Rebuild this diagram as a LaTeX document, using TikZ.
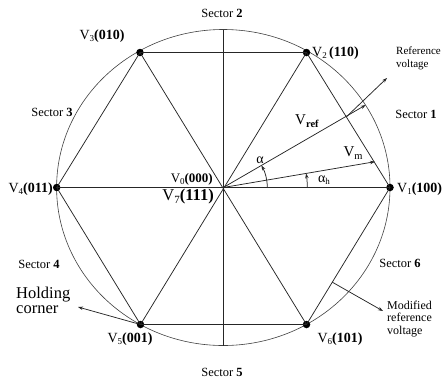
\documentclass[tikz,border=0pt]{standalone}
\usepackage{fontspec}
\setmainfont{Liberation Serif}
\usetikzlibrary{arrows.meta}
\newcommand\lsub[1]{\raisebox{-0.35ex}{\fontsize{9}{9}\selectfont #1}}
\begin{document}
\begin{tikzpicture}[x=1pt,y=-1pt,
  ln/.style={line width=0.75pt,black!85},
  dot/.style={circle,fill=black,inner sep=0pt,minimum size=7.5pt},
  tip/.style={-{Stealth[length=5pt,width=3.5pt]}},
  lbl/.style={inner sep=0pt,font=\fontsize{14}{16}\selectfont},
  big/.style={inner sep=0pt,font=\fontsize{16.5}{15}\selectfont,align=left},
  sec/.style={inner sep=0pt,font=\fontsize{12.5}{14}\selectfont},
  note/.style={inner sep=0pt,font=\fontsize{12.5}{12.5}\selectfont,align=left},
  ]
\useasboundingbox (0,0) rectangle (443,381);
\coordinate (O) at (223.3,187.5);
\draw[line width=0.6pt, black!75] (O) ellipse [x radius=166.7pt, y radius=158pt];
\node[dot] (v1) at (390,187.5) {};
\node[dot] (v2) at (306.5,52.5) {};
\node[dot] (v3) at (140,52.5) {};
\node[dot] (v4) at (56.7,187.5) {};
\node[dot] (v5) at (140.5,324.5) {};
\node[dot] (v6) at (306.5,324.5) {};
\coordinate (top) at (223.3,29.5);
\coordinate (bot) at (223.3,345.5);
\draw[ln] (top) -- (bot);
\draw[ln] (v1.center) -- (v2.center) -- (v3.center) -- (v4.center) -- (v5.center) -- (v6.center) -- cycle;
\draw[ln] (v1.center) -- (v4.center) (v2.center) -- (v5.center) (v3.center) -- (v6.center);
% reference vectors
\coordinate (vr) at (365.7,105);
\coordinate (vm) at (375,161.7);
\draw[ln,tip] (O) -- (vr);
\draw[ln,tip] (O) -- (vm);
\draw[ln,tip] ([shift={(44pt,0pt)}]O) arc[start angle=0,end angle=30.1,radius=44pt];
\draw[ln,tip] ([shift={(84pt,0pt)}]O) arc[start angle=0,end angle=9.65,radius=84pt];
% pointers
\coordinate (rp) at (346.5,116.7);
\coordinate (rpe) at (387,78);
\draw[ln,tip] (rp) -- (rpe);
\coordinate (mp) at (332,282);
\coordinate (mpe) at (383,311);
\draw[ln,tip] (mp) -- (mpe);
\coordinate (hce) at (78,307);
\draw[ln,tip] (v5.center) -- (hce);
% sector labels
\node[sec] (s1) at (416,114) {Sector \textbf{1}};
\node[sec] (s2) at (222,13) {Sector \textbf{2}};
\node[sec] (s3) at (52,112) {Sector \textbf{3}};
\node[sec] (s4) at (39,264) {Sector \textbf{4}};
\node[sec] (s5) at (222,372) {Sector \textbf{5}};
\node[sec] (s6) at (400,263) {Sector \textbf{6}};
% vertex labels
\node[lbl] (l3) at (102,36) {V\lsub{3}\textbf{(010)}};
\node[lbl,anchor=west] (l2) at (312,53) {V\lsub{2}\,\textbf{(110)}};
\node[lbl,anchor=east] (l4) at (53,189) {V\lsub{4}\textbf{(011)}};
\node[lbl,anchor=west] (l1) at (397,189) {V\lsub{1}\textbf{(100)}};
\node[lbl] (l5) at (130,339) {V\lsub{5}\textbf{(001)}};
\node[lbl] (l6) at (340,339) {V\lsub{6}\textbf{(101)}};
\node[lbl,anchor=east,font=\fontsize{13}{15}\selectfont] (l0) at (213,179) {V\lsub{0}\textbf{(000)}};
\node[big,anchor=east] (l7) at (214,197) {V\raisebox{-0.35ex}{\fontsize{11}{11}\selectfont 7}\textbf{(111)}};
% annotations
\node[note,anchor=west,font=\fontsize{11}{12.5}\selectfont] (rv) at (396,58.5) {Reference\\voltage};
\node[note,anchor=west,font=\fontsize{12}{12.5}\selectfont] (mr) at (387,319) {Modified\\reference\\voltage};
\node[big,anchor=west] (hc) at (16,300) {Holding\\corner};
\node[lbl,font=\fontsize{15}{15}\selectfont] (lvr) at (307,121) {V\raisebox{-0.35ex}{\fontsize{10.5}{10.5}\selectfont\textbf{ref}}};
\node[lbl,font=\fontsize{15}{15}\selectfont] (lvm) at (353,153) {V\raisebox{-0.35ex}{\fontsize{10.5}{10.5}\selectfont m}};
\node[lbl] (la) at (260,160) {α};
\node[lbl] (lah) at (324,180) {α\lsub{h}};
\end{tikzpicture}
\end{document}
